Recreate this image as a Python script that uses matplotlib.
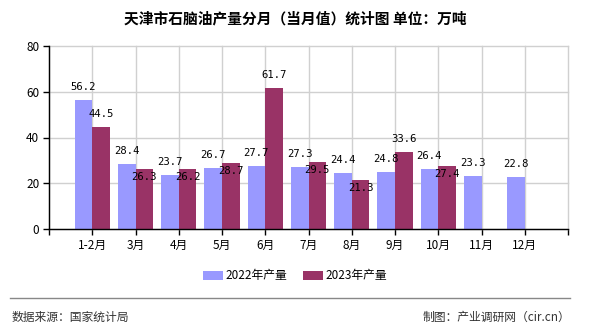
import matplotlib
matplotlib.use("Agg")
import matplotlib.pyplot as plt
from matplotlib.patches import Patch
from matplotlib.lines import Line2D

plt.rcParams['font.family'] = ['Noto Sans CJK SC', 'DejaVu Sans']

months = ["1-2月", "3月", "4月", "5月", "6月", "7月", "8月", "9月", "10月", "11月", "12月"]
prod_2022 = [56.2, 28.4, 23.7, 26.7, 27.7, 27.3, 24.4, 24.8, 26.4, 23.3, 22.8]
prod_2023 = [44.5, 26.3, 26.2, 28.7, 61.7, 29.5, 21.3, 33.6, 27.4]
series_names = ["2022年产量", "2023年产量"]
y_ticks = [0, 20, 40, 60, 80]

c22 = "#9999FF"
c23 = "#993366"

fig = plt.figure(figsize=(5.9, 3.3), dpi=100)
ax = fig.add_axes([49 / 590, 101 / 330, 519 / 590, 183 / 330])

pos = list(range(1, len(months) + 1))
w = 0.41
ax.bar([p - w / 2 for p in pos], prod_2022, width=w, color=c22, zorder=3)
ax.bar([p + w / 2 for p in pos[:len(prod_2023)]], prod_2023, width=w, color=c23, zorder=3)

ax.set_xlim(0, 12)
ax.set_ylim(0, 80)
ax.set_xticks(range(0, 13))
ax.set_xticklabels([""] + months + [""], fontsize=8.5)
ax.set_yticks(y_ticks)
ax.set_yticklabels([str(t) for t in y_ticks], fontsize=8.5)
ax.grid(True, color="#d0d0d0", linewidth=1, zorder=0)
for gl in ax.get_xgridlines() + ax.get_ygridlines():
    gl.set_clip_on(False)
for s in ["top", "right"]:
    ax.spines[s].set_visible(False)
for s in ["left", "bottom"]:
    ax.spines[s].set_color("black")
    ax.spines[s].set_linewidth(1)
    ax.spines[s].set_zorder(4)
ax.tick_params(axis="both", length=4, width=1, color="black", pad=3)

# value labels: above each bar; a 2023 label that would collide with the
# neighbouring 2022 label is tucked just inside the top of its bar
px_per_unit = 183 / 80
lab_kw = dict(ha="center", va="center", fontsize=7.6, family="DejaVu Sans Mono",
              textcoords="offset pixels", zorder=5)
for p, v in zip(pos, prod_2022):
    ax.annotate(f"{v}", (p - w / 2, v), xytext=(0, 13), **lab_kw)
for p, v, v22 in zip(pos, prod_2023, prod_2022):
    clash = abs(v - v22) * px_per_unit < 14
    dy = -8 if clash else 13
    ax.annotate(f"{v}", (p + w / 2, v), xytext=(0, dy), **lab_kw)

fig.text(0.5, 1 - 18 / 330, "天津市石脑油产量分月（当月值）统计图 单位：万吨",
         ha="center", va="center", fontsize=10.6, fontweight="bold")

handles = [Patch(facecolor=c22), Patch(facecolor=c23)]
fig.legend(handles, series_names, loc="center", bbox_to_anchor=(0.5, 1 - 276 / 330),
           ncol=2, frameon=False, fontsize=8.5, handlelength=1.7, handleheight=0.75,
           handletextpad=0.25, columnspacing=1.3)

fig.add_artist(Line2D([10 / 590, 570 / 590], [1 - 298 / 330] * 2, color="#888888",
                      linewidth=1, transform=fig.transFigure))
fig.text(12 / 590, 1 - 317 / 330, "数据来源：国家统计局", ha="left", va="center",
         fontsize=8.5, color="#333333")
fig.text(570 / 590, 1 - 317 / 330, "制图：产业调研网（cir.cn）", ha="right", va="center",
         fontsize=8.5, color="#333333")

fig.savefig("out.png", dpi=100, facecolor="white")
